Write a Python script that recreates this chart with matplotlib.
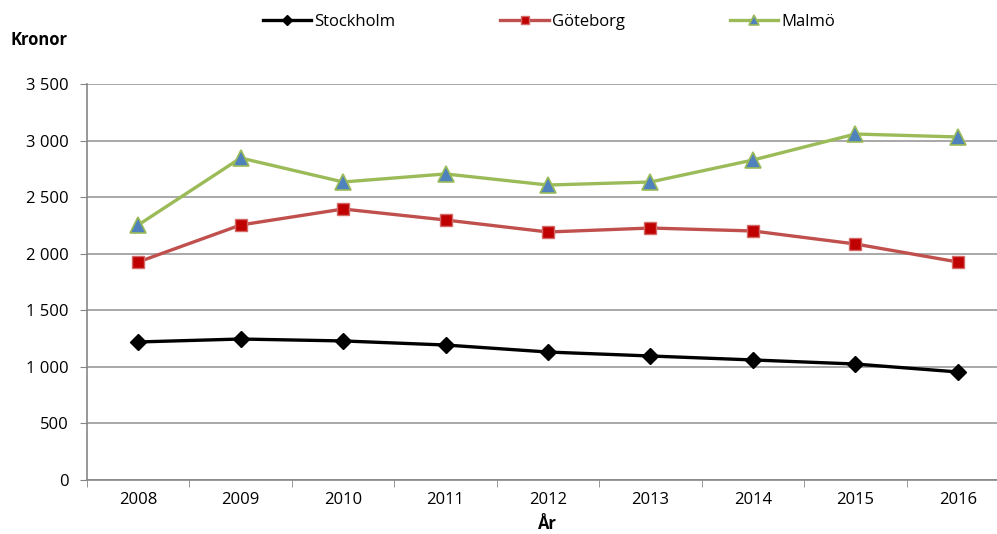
import matplotlib
matplotlib.use('Agg')
import matplotlib.pyplot as plt
import numpy as np

plt.rcParams['font.family'] = ['Open Sans', 'DejaVu Sans']

years = ['2008', '2009', '2010', '2011', '2012', '2013', '2014', '2015', '2016']
stockholm = [1220, 1246, 1229, 1193, 1131, 1096, 1061, 1025, 955]
goteborg = [1927, 2254, 2395, 2298, 2192, 2227, 2201, 2086, 1927]
malmo = [2254, 2846, 2634, 2705, 2607, 2634, 2828, 3058, 3032]
yticks = [0, 500, 1000, 1500, 2000, 2500, 3000, 3500]

W, H = 997, 534
fig = plt.figure(figsize=(W / 100, H / 100), dpi=100)
ax = fig.add_axes([87 / W, 54 / H, (1009 - 87) / W, 396 / H])

x = np.arange(len(years))
ax.plot(x, stockholm, color='black', lw=2.4, marker='D', ms=8.5,
        mfc='black', mec='black', label='Stockholm', zorder=3)
ax.plot(x, goteborg, color='#C0504D', lw=2.4, marker='s', ms=8.5,
        mfc='#C00000', mec='#D46A67', label='Göteborg', zorder=3)
ax.plot(x, malmo, color='#9BBB59', lw=2.4, marker='^', ms=11,
        mfc='#4F81BD', mec='#9BBB59', mew=1.2, label='Malmö', zorder=3)

ax.set_xlim(-0.5, len(years) - 0.5)
ax.set_ylim(0, 3500)
ax.set_yticks(yticks)
ax.set_yticklabels([f'{v:,}'.replace(',', ' ') for v in yticks], fontsize=12)
ax.set_xticks(x)
ax.set_xticklabels(years, fontsize=12)
ax.set_xticks(np.arange(-0.5, len(years)), minor=True)
ax.tick_params(axis='x', which='major', length=0, pad=9)
ax.tick_params(axis='x', which='minor', length=5, color='#868686', direction='out')
ax.tick_params(axis='y', length=5, color='#868686', pad=8)
ax.grid(axis='y', color='#9a9a9a', lw=1.2)
ax.set_axisbelow(True)
for s in ['top', 'right']:
    ax.spines[s].set_visible(False)
for s in ['left', 'bottom']:
    ax.spines[s].set_color('#868686')
    ax.spines[s].set_linewidth(1.2)

fig.text(10 / W, 1 - 40 / H, 'Kronor', fontsize=12, fontweight='bold', va='center', ha='left')
fig.text(547 / W, 1 - 524 / H, 'År', fontsize=12, fontweight='bold', va='center', ha='center')

fig.legend(loc='center', bbox_to_anchor=(549 / W, 1 - 22 / H), ncol=3, frameon=False,
           fontsize=12, handlelength=2.9, columnspacing=6.3, handletextpad=0.2, markerscale=0.6)

fig.savefig('out.png', dpi=100)
